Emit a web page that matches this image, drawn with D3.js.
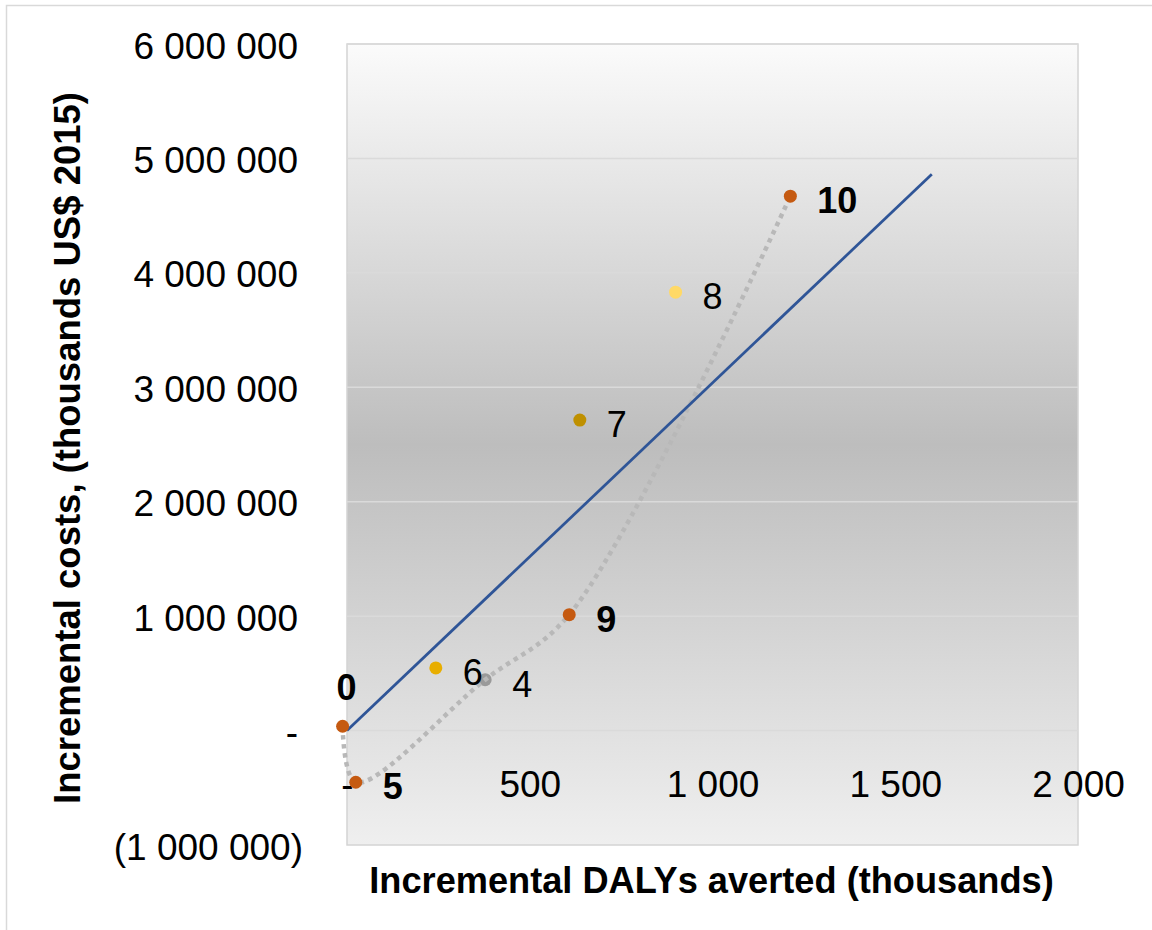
<!DOCTYPE html>
<html>
<head>
<meta charset="utf-8">
<script src="https://cdn.jsdelivr.net/npm/d3@7"></script>
<style>
  html, body { margin: 0; padding: 0; background: #fff; }
  svg { display: block; }
  text { font-family: "Liberation Sans", Arial, sans-serif; fill: #000; }
</style>
</head>
<body>
<svg id="chart" width="1152" height="930"></svg>
<script>
// ---- Data ----
const pointIds     = ["0", "5", "6", "4", "9", "7", "8", "10"];
const dalysAverted = [-12, 24, 243, 378, 608, 637, 899, 1213];            // thousands
const incCosts     = [38000, -451500, 547600, 445000, 1013000, 2713500, 3831000, 4670000]; // thousands US$ 2015
const pointColors  = ["#c55a11", "#c55a11", "#e8ae00", "#9a9a9a", "#c55a11", "#bf9000", "#ffd966", "#c55a11"];
const labelBold    = [true, true, false, false, true, false, false, true];
const labelPlace   = ["above", "right", "right", "right", "right", "right", "right", "right"];

// efficiency frontier (dotted, smoothed) through these points, in order
const frontierIds  = ["0", "5", "4", "9", "10"];

// threshold line
const thresholdX   = [0, 1600];
const thresholdY   = [0, 4862000];

// axes
const xTicks = [0, 500, 1000, 1500, 2000];
const yTicks = [-1000000, 0, 1000000, 2000000, 3000000, 4000000, 5000000, 6000000];
const xTitle = "Incremental DALYs averted (thousands)";
const yTitle = "Incremental costs, (thousands US$ 2015)";

// ---- Layout ----
const svg = d3.select("#chart");
const plot = { left: 347, right: 1078, top: 44, bottom: 845 };

const x = d3.scaleLinear().domain([0, 2000]).range([plot.left, plot.right]);
const y = d3.scaleLinear().domain([-1000000, 6000000]).range([plot.bottom, plot.top]);

// accounting-style number format with space thousands separator
function acct(v) {
  if (v === 0) return "-";
  const s = d3.format(",")(Math.abs(v)).replace(/,/g, " ");
  return v < 0 ? "(" + s + ")" : s;
}

// outer chart border
svg.append("rect")
  .attr("x", 6.5).attr("y", 5.5).attr("width", 1160).attr("height", 940)
  .attr("fill", "#fff").attr("stroke", "#d9d9d9").attr("stroke-width", 1.5);

// gradient plot background
const defs = svg.append("defs");
const grad = defs.append("linearGradient").attr("id", "bg")
  .attr("x1", 0).attr("y1", 0).attr("x2", 0).attr("y2", 1);
grad.append("stop").attr("offset", "0%").attr("stop-color", "#fbfbfb");
grad.append("stop").attr("offset", "50%").attr("stop-color", "#bdbdbd");
grad.append("stop").attr("offset", "100%").attr("stop-color", "#efefef");

svg.append("rect")
  .attr("x", plot.left).attr("y", plot.top)
  .attr("width", plot.right - plot.left).attr("height", plot.bottom - plot.top)
  .attr("fill", "url(#bg)").attr("stroke", "#d4d4d4").attr("stroke-width", 1.5);

// horizontal gridlines
svg.append("g").selectAll("line").data(yTicks.filter(d => d > -1000000)).join("line")
  .attr("x1", plot.left).attr("x2", plot.right)
  .attr("y1", d => y(d)).attr("y2", d => y(d))
  .attr("stroke", "#dadada").attr("stroke-width", 1.5);

// y axis tick labels
const yAxis = d3.axisLeft(y).tickValues(yTicks).tickFormat(acct).tickSize(0).tickPadding(0);
const yg = svg.append("g").attr("transform", "translate(298,0)").call(yAxis);
yg.select(".domain").remove();
yg.selectAll("text")
  .attr("font-family", "Liberation Sans, Arial, sans-serif")
  .attr("font-size", 37).attr("fill", "#000")
  .attr("dy", "0.38em")
  .attr("dx", d => d < 0 ? 5 : 0);

// x axis tick labels (placed below the zero line, Excel style)
const xAxis = d3.axisBottom(x).tickValues(xTicks).tickFormat(acct).tickSize(0).tickPadding(0);
const xg = svg.append("g").attr("transform", "translate(0,771)").call(xAxis);
xg.select(".domain").remove();
xg.selectAll("text")
  .attr("font-family", "Liberation Sans, Arial, sans-serif")
  .attr("font-size", 37).attr("fill", "#000")
  .attr("dy", "0.71em");

// points data
const pts = pointIds.map((id, i) => ({
  id, dx: dalysAverted[i], c: incCosts[i], color: pointColors[i],
  bold: labelBold[i], place: labelPlace[i]
}));
const byId = Object.fromEntries(pts.map(p => [p.id, p]));

// gray marker of point 4 (sits under the frontier line)
svg.append("g").selectAll("circle").data(pts.filter(p => p.id === "4")).join("circle")
  .attr("cx", d => x(d.dx)).attr("cy", d => y(d.c)).attr("r", 6.5)
  .attr("fill", d => d.color);

// frontier dotted smoothed line
const frontier = frontierIds.map(id => byId[id]);
const lineGen = d3.line().x(d => x(d.dx)).y(d => y(d.c)).curve(d3.curveCatmullRom.alpha(0.5));
svg.append("path").datum(frontier)
  .attr("d", lineGen)
  .attr("fill", "none").attr("stroke", "#b8b8b8")
  .attr("stroke-width", 4.5).attr("stroke-dasharray", "4.5,4.5");

// threshold line
svg.append("line")
  .attr("x1", x(thresholdX[0])).attr("y1", y(thresholdY[0]))
  .attr("x2", x(thresholdX[1])).attr("y2", y(thresholdY[1]))
  .attr("stroke", "#2f5597").attr("stroke-width", 2.75);

// other markers on top
svg.append("g").selectAll("circle").data(pts.filter(p => p.id !== "4")).join("circle")
  .attr("cx", d => x(d.dx)).attr("cy", d => y(d.c)).attr("r", 6.5)
  .attr("fill", d => d.color);

// point labels
svg.append("g").selectAll("text").data(pts).join("text")
  .attr("x", d => d.place === "above" ? x(d.dx) + 4 : x(d.dx) + 27)
  .attr("y", d => d.place === "above" ? y(d.c) - 39 + 13 : y(d.c) + 4 + 13)
  .attr("text-anchor", d => d.place === "above" ? "middle" : "start")
  .attr("font-size", 36)
  .attr("font-weight", d => d.bold ? "bold" : "normal")
  .text(d => d.id);

// axis titles
svg.append("text")
  .attr("x", (plot.left + plot.right) / 2 - 1).attr("y", 893)
  .attr("text-anchor", "middle")
  .attr("font-size", 36.2).attr("font-weight", "bold")
  .text(xTitle);

svg.append("text")
  .attr("transform", "translate(80,448) rotate(-90)")
  .attr("text-anchor", "middle")
  .attr("font-size", 36.5).attr("font-weight", "bold")
  .text(yTitle);
</script>
</body>
</html>
